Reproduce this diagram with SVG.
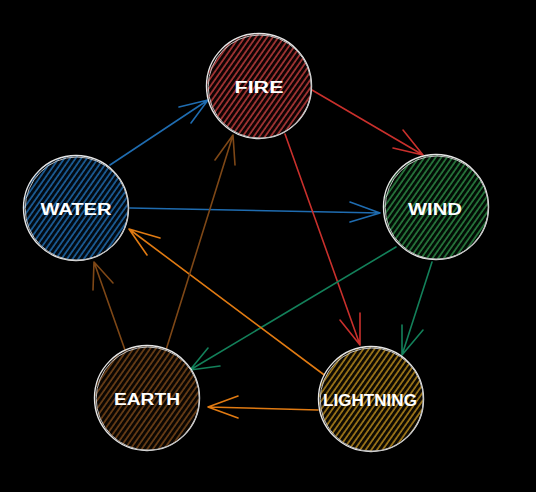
<svg xmlns="http://www.w3.org/2000/svg" width="536" height="492" viewBox="0 0 536 492">
<defs>
<pattern id="hFire" width="4.6" height="4.6" patternUnits="userSpaceOnUse" patternTransform="rotate(35)"><rect width="4.6" height="4.6" fill="#0e0303"/><line x1="1" y1="0" x2="1" y2="4.6" stroke="#c7403f" stroke-width="1.4"/></pattern>
<pattern id="hWater" width="4.6" height="4.6" patternUnits="userSpaceOnUse" patternTransform="rotate(35)"><rect width="4.6" height="4.6" fill="#020a12"/><line x1="1" y1="0" x2="1" y2="4.6" stroke="#2170b6" stroke-width="1.4"/></pattern>
<pattern id="hWind" width="4.6" height="4.6" patternUnits="userSpaceOnUse" patternTransform="rotate(35)"><rect width="4.6" height="4.6" fill="#020c05"/><line x1="1" y1="0" x2="1" y2="4.6" stroke="#2f8f48" stroke-width="1.4"/></pattern>
<pattern id="hLight" width="4.6" height="4.6" patternUnits="userSpaceOnUse" patternTransform="rotate(35)"><rect width="4.6" height="4.6" fill="#0e0a02"/><line x1="1" y1="0" x2="1" y2="4.6" stroke="#bf8f1e" stroke-width="1.4"/></pattern>
<pattern id="hEarth" width="4.6" height="4.6" patternUnits="userSpaceOnUse" patternTransform="rotate(35)"><rect width="4.6" height="4.6" fill="#0b0602"/><line x1="1" y1="0" x2="1" y2="4.6" stroke="#7e4a1a" stroke-width="1.4"/></pattern>
</defs>
<style>
.ring{fill:none;stroke:#e6e6e6;stroke-width:1.4}
.ring2{fill:none;stroke:#bdbdbd;stroke-width:1}
.lbl{font-family:"Liberation Sans",Arial,sans-serif;font-weight:bold;font-size:16px;fill:#ffffff;text-anchor:middle;dominant-baseline:central}
.a{fill:none;stroke-width:1.6;stroke-linecap:round;stroke-linejoin:round}
.blue{stroke:#1f6cb0}.red{stroke:#c9302c}.green{stroke:#13805a}.orange{stroke:#e07a12}.brown{stroke:#7e4716}
</style>
<rect width="536" height="492" fill="#000000"/>
<g id="connectors">
<path class="a blue" d="M110,165 L208,100 M179,107 L208,100 L191,123"/>
<path class="a red" d="M312,90 L423,155 M403,130 L423,155 L393,148"/>
<path class="a blue" d="M130,208 L380,213 M350,202 L380,213 L350,222"/>
<path class="a red" d="M285,134 L360,345 M340,320 L360,345 L360,313"/>
<path class="a green" d="M432,262 L402,355 M402,325 L402,355 L423,330"/>
<path class="a green" d="M396,247 L190,370 M208,348 L190,370 L220,366"/>
<path class="a orange" d="M331,380 L129,229 M160,238 L129,229 L147,255"/>
<path class="a orange" d="M318,410 L208,407 M238,396 L208,407 L238,418"/>
<path class="a brown" d="M166,350 L233,135 M215,160 L233,135 L235,165"/>
<path class="a brown" d="M125,350 L94,262 M93,290 L94,262 L113,283"/>
</g>
<g id="fire">
<circle cx="259" cy="86" r="52" fill="url(#hFire)"/>
<circle class="ring" cx="259" cy="86" r="52.5"/>
<circle class="ring2" cx="259.8" cy="86.6" r="51.6"/>
<text class="lbl" x="259" y="87" textLength="49" lengthAdjust="spacingAndGlyphs">FIRE</text>
</g>
<g id="water">
<circle cx="76" cy="208" r="52" fill="url(#hWater)"/>
<circle class="ring" cx="76" cy="208" r="52.5"/>
<circle class="ring2" cx="76.8" cy="208.6" r="51.6"/>
<text class="lbl" x="76" y="209" textLength="71" lengthAdjust="spacingAndGlyphs">WATER</text>
</g>
<g id="wind">
<circle cx="436" cy="207" r="52" fill="url(#hWind)"/>
<circle class="ring" cx="436" cy="207" r="52.5"/>
<circle class="ring2" cx="436.8" cy="207.6" r="51.6"/>
<text class="lbl" x="435" y="209" textLength="54" lengthAdjust="spacingAndGlyphs">WIND</text>
</g>
<g id="lightning">
<circle cx="371" cy="399" r="52" fill="url(#hLight)"/>
<circle class="ring" cx="371" cy="399" r="52.5"/>
<circle class="ring2" cx="371.8" cy="399.6" r="51.6"/>
<text class="lbl" x="370" y="400" textLength="94" lengthAdjust="spacingAndGlyphs">LIGHTNING</text>
</g>
<g id="earth">
<circle cx="147" cy="398" r="52" fill="url(#hEarth)"/>
<circle class="ring" cx="147" cy="398" r="52.5"/>
<circle class="ring2" cx="147.8" cy="398.6" r="51.6"/>
<text class="lbl" x="147" y="399" textLength="66" lengthAdjust="spacingAndGlyphs">EARTH</text>
</g>
</svg>
